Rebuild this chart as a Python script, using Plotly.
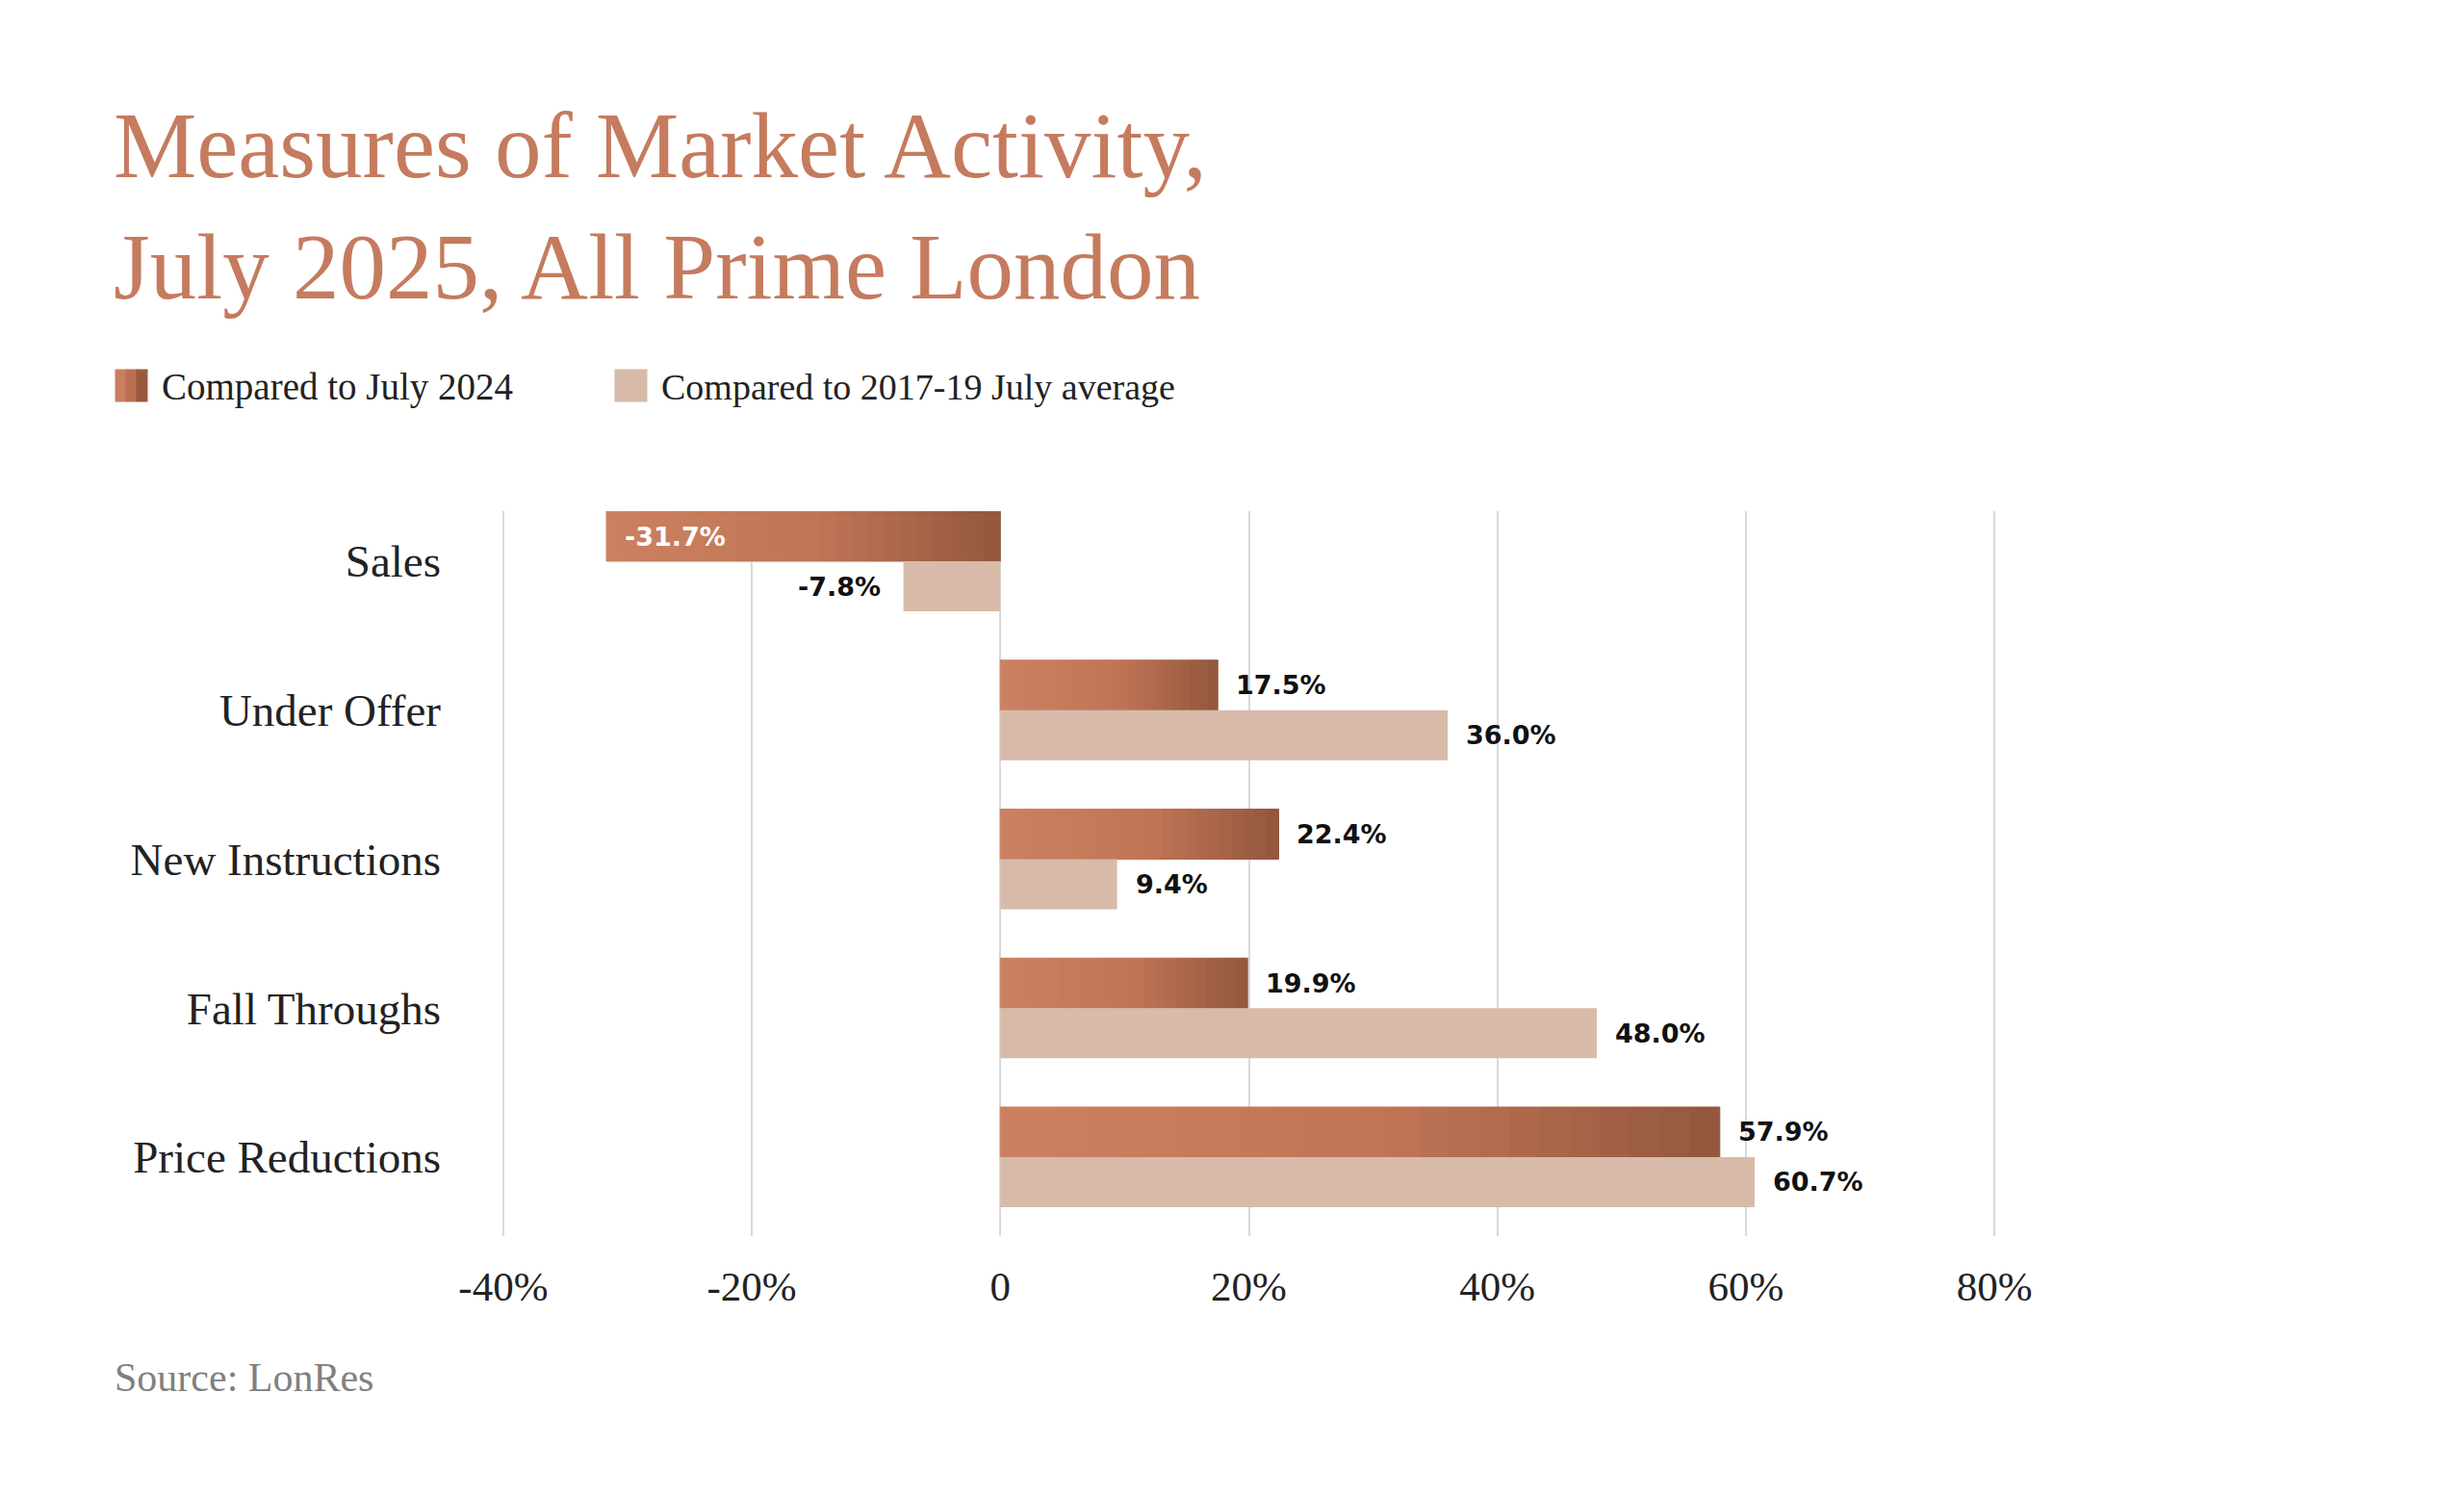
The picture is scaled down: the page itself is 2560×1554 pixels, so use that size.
import plotly.graph_objects as go

# data
categories = ["Sales", "Under Offer", "New Instructions", "Fall Throughs", "Price Reductions"]
vs_july_2024 = [-31.7, 17.5, 22.4, 19.9, 57.9]
vs_2017_19_avg = [-7.8, 36.0, 9.4, 48.0, 60.7]
tick_values = [-40, -20, 0, 20, 40, 60, 80]
tick_labels = ["-40%", "-20%", "0", "20%", "40%", "60%", "80%"]

# the page body adds an 8px margin, so the figure is laid out in page pixels minus 8
OFF = 8
W, H = 2560 - OFF, 1554 - OFF
L, T = 519 - OFF, 531 - OFF
R = W - (2076 - OFF)
B = H - (1284 - OFF)
BAR_W = 0.336

SERIF = "Liberation Serif"
SANS = "DejaVu Sans"
ACCENT = "#c57b5e"
LIGHT = "#d8baa9"


def px_x(px):
    # page pixel -> paper x
    return (px - OFF - L) / (W - L - R)


def px_y(py):
    # page pixel (from top) -> paper y
    return (H - B - (py - OFF)) / (H - T - B)


def mix(c1, c2, t):
    a = [int(c1[i:i + 2], 16) for i in (1, 3, 5)]
    b = [int(c2[i:i + 2], 16) for i in (1, 3, 5)]
    return "#" + "".join(f"{round(a[j] + (b[j] - a[j]) * t):02x}" for j in range(3))


def grad(t):
    # slow change over the first half, then darken quickly
    if t < 0.55:
        return mix("#cb8161", "#c07455", t / 0.55)
    return mix("#c07455", "#95583f", (t - 0.55) / 0.45)


fig = go.Figure()

# gradient bars for "Compared to July 2024", split into strips
N = 24
for k in range(N):
    bases, lens = [], []
    for v in vs_july_2024:
        lo, hi = min(0, v), max(0, v)
        w = hi - lo
        bases.append(lo + k * w / N)
        lens.append(w / N)
    c = grad(k / (N - 1))
    fig.add_trace(go.Bar(
        y=categories, x=lens, base=bases, orientation="h",
        offset=-BAR_W, width=BAR_W,
        marker=dict(color=c, line=dict(color=c, width=1)),
        showlegend=False, hoverinfo="skip",
    ))

fig.add_trace(go.Bar(
    y=categories, x=vs_2017_19_avg, orientation="h",
    offset=0, width=BAR_W,
    marker=dict(color=LIGHT, line=dict(width=0)),
    name="Compared to 2017-19 July average", showlegend=False,
))

annotations = []

# value labels
label_font = dict(family=SANS, size=27, weight="bold")
for cat, v in zip(categories, vs_july_2024):
    inside = v < 0
    annotations.append(dict(
        x=v, y=cat, xref="x", yref="y", text=f"{v:.1f}%", showarrow=False,
        xanchor="left", xshift=17, yshift=26,
        font=dict(label_font, color="white" if inside else "#111"),
    ))
for cat, v in zip(categories, vs_2017_19_avg):
    neg = v < 0
    annotations.append(dict(
        x=v, y=cat, xref="x", yref="y", text=f"{v:.1f}%", showarrow=False,
        xanchor="right" if neg else "left", xshift=-22 if neg else 17, yshift=-26,
        font=dict(label_font, color="#111"),
    ))

# title
annotations.append(dict(
    x=px_x(116), y=px_y(96), xref="paper", yref="paper", xanchor="left", yanchor="top",
    align="left", showarrow=False,
    text="Measures of Market Activity,<br>July 2025, All Prime London",
    font=dict(family=SERIF, size=97, color=ACCENT),
))

# legend built by hand (big square swatches)
for j, c in enumerate(["#c97f5f", "#b96f51", "#99593f"]):
    annotations.append(dict(
        x=px_x(119 + j * 11), y=px_y(401), xref="paper", yref="paper",
        xanchor="left", yanchor="middle", showarrow=False, text=" ",
        width=11, height=33, bgcolor=c, borderpad=0, font=dict(size=10),
    ))
annotations.append(dict(
    x=px_x(638), y=px_y(401), xref="paper", yref="paper",
    xanchor="left", yanchor="middle", showarrow=False, text=" ",
    width=33, height=33, bgcolor=LIGHT, borderpad=0, font=dict(size=10),
))
annotations.append(dict(
    x=px_x(166), y=px_y(402), xref="paper", yref="paper", xanchor="left", yanchor="middle",
    showarrow=False, text="Compared to July 2024",
    font=dict(family=SERIF, size=39, color="#222"),
))
annotations.append(dict(
    x=px_x(685), y=px_y(402), xref="paper", yref="paper", xanchor="left", yanchor="middle",
    showarrow=False, text="Compared to 2017-19 July average",
    font=dict(family=SERIF, size=38, color="#222"),
))

# source
annotations.append(dict(
    x=px_x(117), y=px_y(1431), xref="paper", yref="paper", xanchor="left", yanchor="middle",
    showarrow=False, text="Source: LonRes",
    font=dict(family=SERIF, size=42, color="#808080"),
))

fig.update_layout(
    width=W, height=H,
    margin=dict(l=L, r=R, t=T, b=B),
    paper_bgcolor="white", plot_bgcolor="white",
    barmode="overlay",
    showlegend=False,
    annotations=annotations,
    xaxis=dict(
        range=[-40.3, 80.3], tickvals=tick_values, ticktext=tick_labels,
        showgrid=True, gridcolor="#d9d9d9", gridwidth=2,
        zeroline=True, zerolinecolor="#d9d9d9", zerolinewidth=2,
        showline=False, ticks="", ticklabelstandoff=23,
        tickfont=dict(family=SERIF, size=43, color="#222"),
    ),
    yaxis=dict(
        type="category", range=[4.53, -BAR_W],
        showgrid=False, zeroline=False, showline=False, ticks="",
        ticklabelstandoff=60,
        tickfont=dict(family=SERIF, size=47, color="#222"),
    ),
)

fig.write_html("out.html")
